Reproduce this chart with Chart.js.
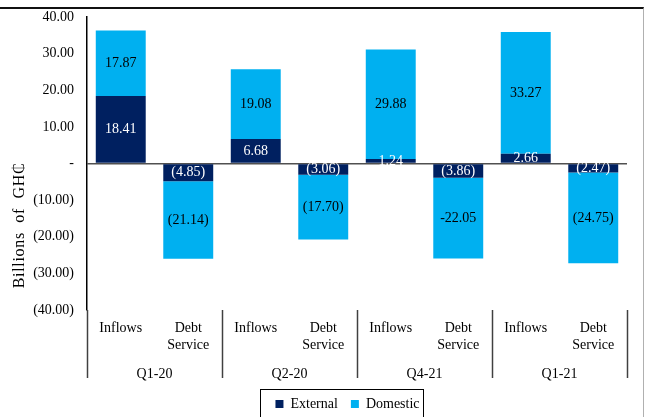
<!DOCTYPE html>
<html>
<head>
<meta charset="utf-8">
<script src="https://cdn.jsdelivr.net/npm/chart.js@4"></script>
<style>
  html, body { margin: 0; padding: 0; background: #fff; }
  #wrap { position: relative; width: 645px; height: 417px; overflow: hidden; }
  #frame {
    position: absolute; left: -2px; top: 7px; width: 646px; height: 420px;
    border-top: 2px solid #111; border-right: 1px solid #b0b0b0; box-sizing: border-box;
  }
  canvas { position: absolute; left: 0; top: 0; }
</style>
</head>
<body>
<div id="wrap">
  <div id="frame"></div>
  <canvas id="flowsChart" width="645" height="417"></canvas>
</div>
<script>
// ---- data ----
const quarters = ['Q1-20', 'Q2-20', 'Q4-21', 'Q1-21'];
const flowTypes = [['Inflows'], ['Debt', 'Service']];
const externalValues = [18.41, -4.85, 6.68, -3.06, 1.24, -3.86, 2.66, -2.47];
const domesticValues = [17.87, -21.14, 19.08, -17.70, 29.88, -22.05, 33.27, -24.75];
const externalLabels = ['18.41', '(4.85)', '6.68', '(3.06)', '1.24', '(3.86)', '2.66', '(2.47)'];
const domesticLabels = ['17.87', '(21.14)', '19.08', '(17.70)', '29.88', '-22.05', '33.27', '(24.75)'];
const yTicks = [-40, -30, -20, -10, 0, 10, 20, 30, 40];

const COLORS = {
  external: '#002060',
  domestic: '#00B0F0'
};
const FONT = "'Liberation Serif', 'Times New Roman', serif";
const LEGEND_SHIFT = 30; // legend sits right of the canvas centre

const categories = [];
quarters.forEach(() => flowTypes.forEach(t => categories.push(t)));

function fmtTick(v) {
  if (v === 0) return '-';
  if (v < 0) return '(' + Math.abs(v).toFixed(2) + ')';
  return v.toFixed(2);
}

// value labels centred in each bar segment
const barLabels = {
  id: 'barLabels',
  afterDatasetsDraw(chart) {
    const ctx = chart.ctx;
    const texts = [externalLabels, domesticLabels];
    const colors = ['#ffffff', '#000000'];
    ctx.save();
    ctx.font = '14px ' + FONT;
    ctx.textAlign = 'center';
    ctx.textBaseline = 'middle';
    chart.data.datasets.forEach((ds, i) => {
      chart.getDatasetMeta(i).data.forEach((bar, j) => {
        ctx.fillStyle = colors[i];
        ctx.fillText(texts[i][j], bar.x, (bar.y + bar.base) / 2);
      });
    });
    ctx.restore();
  }
};

// group separators, y title and legend frame
const decorations = {
  id: 'decorations',
  afterLayout(chart) {
    const lg = chart.legend;
    lg.left += LEGEND_SHIFT;
    lg.right += LEGEND_SHIFT;
  },
  afterDraw(chart) {
    const ctx = chart.ctx;
    const x = chart.scales.x;
    const x2 = chart.scales.x2;
    const area = chart.chartArea;
    ctx.save();
    ctx.strokeStyle = '#404040';
    ctx.lineWidth = 1.5;
    for (let k = 0; k <= quarters.length; k++) {
      const px = Math.round(x.getPixelForValue(2 * k - 0.5)) + 0.5;
      ctx.beginPath();
      ctx.moveTo(px, area.bottom);
      ctx.lineTo(px, x2.bottom - 6);
      ctx.stroke();
    }

    // y axis title
    ctx.fillStyle = '#000';
    ctx.font = '16px ' + FONT;
    ctx.letterSpacing = '0.7px';
    ctx.textAlign = 'center';
    ctx.textBaseline = 'middle';
    ctx.translate(20, (area.top + area.bottom) / 2 + 62);
    ctx.rotate(-Math.PI / 2);
    ctx.fillText('Billions  of  GH\u20B5', 0, 0);
    ctx.restore();

    // box round the legend
    const boxes = chart.legend.legendHitBoxes;
    if (boxes && boxes.length) {
      const left = Math.min(...boxes.map(b => b.left)) - 15;
      const right = Math.max(...boxes.map(b => b.left + b.width)) + 4;
      const mid = boxes[0].top + boxes[0].height / 2;
      ctx.save();
      ctx.strokeStyle = '#000';
      ctx.lineWidth = 1;
      ctx.strokeRect(Math.round(left) + 0.5, Math.round(mid - 15) + 0.5, Math.round(right - left), 28);
      ctx.restore();
    }
  }
};

new Chart(document.getElementById('flowsChart'), {
  type: 'bar',
  data: {
    labels: categories,
    datasets: [
      {
        label: 'External',
        data: externalValues,
        backgroundColor: COLORS.external,
        categoryPercentage: 1,
        barPercentage: 0.74
      },
      {
        label: 'Domestic',
        data: domesticValues,
        backgroundColor: COLORS.domestic,
        categoryPercentage: 1,
        barPercentage: 0.74
      }
    ]
  },
  options: {
    responsive: false,
    animation: false,
    layout: { padding: { left: 8, right: 18, top: 17, bottom: -4 } },
    plugins: {
      tooltip: { enabled: false },
      legend: {
        position: 'bottom',
        labels: {
          color: '#000',
          font: { family: FONT, size: 14, lineHeight: 0.85 },
          boxWidth: 8,
          boxHeight: 8,
          padding: 13
        }
      }
    },
    scales: {
      x: {
        stacked: true,
        grid: { display: false },
        border: { display: false },
        ticks: {
          color: '#000',
          font: { family: FONT, size: 14, lineHeight: 1.2 },
          padding: 2,
          maxRotation: 0,
          autoSkip: false
        },
        afterFit(s) { s.height = 46; }
      },
      x2: {
        type: 'category',
        position: 'bottom',
        weight: 1,
        labels: quarters,
        offset: true,
        grid: { display: false },
        border: { display: false },
        ticks: {
          color: '#000',
          font: { family: FONT, size: 14 },
          padding: 2
        },
        afterFit(s) { s.height = 28; }
      },
      y: {
        stacked: true,
        min: -40,
        max: 40,
        afterBuildTicks(s) { s.ticks = yTicks.map(v => ({ value: v })); },
        border: { display: true, color: '#000', width: 1.5 },
        grid: {
          drawTicks: false,
          lineWidth: 1.5,
          color: c => (c.tick && c.tick.value === 0 ? '#505050' : 'rgba(0,0,0,0)')
        },
        ticks: {
          color: '#000',
          font: { family: FONT, size: 14 },
          padding: 13,
          callback: v => fmtTick(v)
        },
        afterFit(s) {
          s.width = 79;
          s.paddingTop = 0;
          s.paddingBottom = 0;
        }
      }
    }
  },
  plugins: [barLabels, decorations]
});
</script>
</body>
</html>
